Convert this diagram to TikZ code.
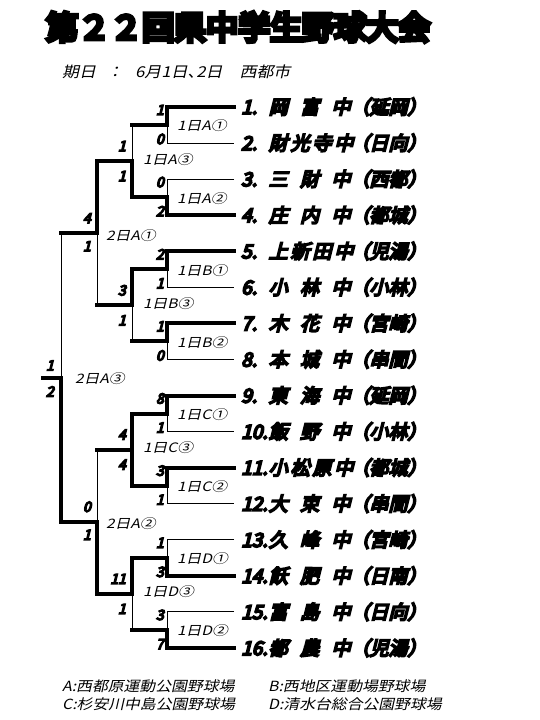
\documentclass[tikz,border=0pt]{standalone}
\usepackage{fontspec,graphicx}
\usetikzlibrary{calc}
\newfontfamily\jpthin[FakeSlant=0.2]{Noto Sans CJK JP}
\newfontfamily\jpheavy[FakeBold=10,FakeSlant=0.25]{Noto Sans CJK JP}
\newfontfamily\jptitle[FakeBold=14]{Noto Sans CJK JP}
\newcommand{\wide}[1]{\scalebox{1.13}[1]{#1}}
\newcommand{\tname}[1]{\makebox[4.3em][s]{#1}}

\begin{document}
\begin{tikzpicture}[x=1pt, y=-1pt, line join=miter,
  every node/.style={inner sep=0pt},
  lose/.style={line width=1pt},
  win/.style={line width=4pt, line cap=rect},
  score/.style={anchor=east, font=\jpheavy\fontsize{14}{14}\selectfont},
  game/.style={anchor=west, font=\jpthin\fontsize{13}{13}\selectfont},
  team/.style={anchor=base west, font=\jpheavy\fontsize{19}{19}\selectfont},
  plain/.style={anchor=west, font=\jpthin\fontsize{14}{14}\selectfont}]
  \useasboundingbox (0,0) rectangle (540,720);

  % title and date
  \node[anchor=west, font=\jptitle\fontsize{32}{32}\selectfont] (title) at (46,27) {第２２回県中学生野球大会};
  \node[plain, font=\jpthin\fontsize{15}{15}\selectfont] (date) at (62,72) {\wide{期日\hspace{0.6em}：\hspace{0.7em}6月1日､2日\hspace{1em}西都市}};

  % team lines
  \foreach \i in {1,...,16} {
    \pgfmathsetmacro\y{107+36.07*(\i-1)}
    \coordinate (t\i) at (234,\y);
    \coordinate (c\i) at (167,\y);
  }
  % round 1
  \foreach \m in {1,...,8} {
    \pgfmathtruncatemacro\a{2*\m-1}
    \pgfmathtruncatemacro\b{2*\m}
    \coordinate (r1-\m) at ($(c\a)!0.5!(c\b)$);
    \coordinate (l1-\m) at ($(r1-\m)+(-35,0)$);
    \draw[lose] (t\a) -- (c\a) -- (c\b) -- (t\b);
    \draw[lose] (r1-\m) -- (l1-\m);
  }
  % round 2
  \foreach \k in {1,...,4} {
    \pgfmathtruncatemacro\a{2*\k-1}
    \pgfmathtruncatemacro\b{2*\k}
    \coordinate (r2-\k) at ($(l1-\a)!0.5!(l1-\b)$);
    \coordinate (l2-\k) at ($(r2-\k)+(-35,0)$);
    \draw[lose] (l1-\a) -- (l1-\b);
    \draw[lose] (r2-\k) -- (l2-\k);
  }
  % round 3 and final
  \foreach \j in {1,2} {
    \pgfmathtruncatemacro\a{2*\j-1}
    \pgfmathtruncatemacro\b{2*\j}
    \coordinate (r3-\j) at ($(l2-\a)!0.5!(l2-\b)$);
    \coordinate (l3-\j) at ($(r3-\j)+(-36,0)$);
    \draw[lose] (l2-\a) -- (l2-\b);
    \draw[lose] (r3-\j) -- (l3-\j);
  }
  \coordinate (r4) at ($(l3-1)!0.5!(l3-2)$);
  \coordinate (l4) at ($(r4)+(-18,0)$);
  \draw[lose] (l3-1) -- (l3-2);

  % winners
  \foreach \t/\m in {1/1, 4/2, 5/3, 7/4, 9/5, 11/6, 14/7, 16/8}
    \draw[win] (t\t) -- (c\t) -- (r1-\m) -- (l1-\m);
  \foreach \m/\k in {2/1, 3/2, 6/3, 7/4}
    \draw[win] (l1-\m) -- (r2-\k) -- (l2-\k);
  \draw[win] (l1-5) -- (r2-3);
  \draw[win] (l2-1) -- (r3-1) -- (l3-1);
  \draw[win] (l2-4) -- (r3-2) -- (l3-2);
  \draw[win] (l3-2) -- (r4) -- (l4);

  % scores
  \foreach \i/\s in {1/1, 3/0, 5/2, 7/1, 9/8, 11/3, 13/1, 15/3}
    \node[score] (p\i) at ($(c\i)+(-3,3)$) {\s};
  \foreach \i/\s in {2/0, 4/2, 6/1, 8/0, 10/1, 12/1, 14/3, 16/7}
    \node[score] (p\i) at ($(c\i)+(-3,-4)$) {\s};
  \foreach \k/\u/\d in {1/1/1, 2/3/1, 3/4/4, 4/11/1} {
    \node[score] (pu2-\k) at ($(r2-\k)+(-6,-15)$) {\u};
    \node[score] (pd2-\k) at ($(r2-\k)+(-6,15)$) {\d};
  }
  \foreach \j/\u/\d in {1/4/1, 2/0/1} {
    \node[score] (pu3-\j) at ($(r3-\j)+(-6,-15)$) {\u};
    \node[score] (pd3-\j) at ($(r3-\j)+(-6,13)$) {\d};
  }
  \node[score] (pu4) at ($(r4)+(-7,-12)$) {1};
  \node[score] (pd4) at ($(r4)+(-7,14)$) {2};

  % game numbers
  \foreach \m/\g in {1/A①, 2/A②, 3/B①, 4/B②, 5/C①, 6/C②, 7/D①, 8/D②}
    \node[game] (g1-\m) at ($(r1-\m)+(10,1)$) {\scalebox{1.2}[1]{1日\g}};
  \foreach \k/\g in {1/A③, 2/B③, 3/C③, 4/D③}
    \node[game] (g2-\k) at ($(r2-\k)+(11,-2)$) {\scalebox{1.2}[1]{1日\g}};
  \node[game] (g3-1) at ($(r3-1)+(9,2)$) {\scalebox{1.2}[1]{2日A①}};
  \node[game] (g3-2) at ($(r3-2)+(9,2)$) {\scalebox{1.2}[1]{2日A②}};
  \node[game] (g4) at ($(r4)+(14,1)$) {\scalebox{1.2}[1]{2日A③}};

  % teams
  \foreach \i/\n/\c in {1/岡 富 中/延岡, 2/財 光 寺 中/日向, 3/三 財 中/西都, 4/庄 内 中/都城,
      5/上 新 田 中/児湯, 6/小 林 中/小林, 7/木 花 中/宮崎, 8/本 城 中/串間,
      9/東 海 中/延岡, 10/飯 野 中/小林, 11/小 松 原 中/都城, 12/大 束 中/串間,
      13/久 峰 中/宮崎, 14/飫 肥 中/日南, 15/富 島 中/日向, 16/都 農 中/児湯}
    \node[team] (n\i) at ($(t\i)+(7,7)$) {\makebox[1.45em][l]{\i.}\tname{\n}（\c）};

  % grounds
  \node[plain] (ga) at (62,686) {\wide{A:西都原運動公園野球場}};
  \node[plain] (gb) at (268,686) {\wide{B:西地区運動場野球場}};
  \node[plain] (gc) at (62,704) {\wide{C:杉安川中島公園野球場}};
  \node[plain] (gd) at (268,704) {\wide{D:清水台総合公園野球場}};
\end{tikzpicture}
\end{document}
